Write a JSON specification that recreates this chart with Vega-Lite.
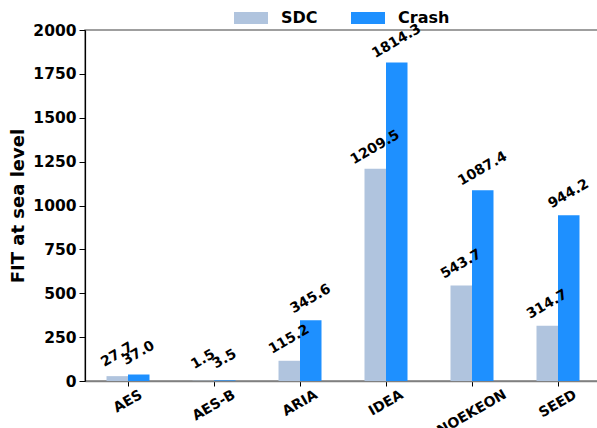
{
  "$schema": "https://vega.github.io/schema/vega-lite/v6.json",
  "width": 516,
  "height": 351,
  "autosize": {"type": "none"},
  "padding": {"left": 85, "top": 30, "right": 0, "bottom": 47},
  "config": {
    "font": "DejaVu Sans",
    "view": {"stroke": "#808080", "strokeWidth": 1.5}
  },
  "data": {
    "values": [
      {"cipher": "AES", "metric": "SDC", "fit": 27.7},
      {"cipher": "AES", "metric": "Crash", "fit": 37.0},
      {"cipher": "AES-B", "metric": "SDC", "fit": 1.5},
      {"cipher": "AES-B", "metric": "Crash", "fit": 3.5},
      {"cipher": "ARIA", "metric": "SDC", "fit": 115.2},
      {"cipher": "ARIA", "metric": "Crash", "fit": 345.6},
      {"cipher": "IDEA", "metric": "SDC", "fit": 1209.5},
      {"cipher": "IDEA", "metric": "Crash", "fit": 1814.3},
      {"cipher": "NOEKEON", "metric": "SDC", "fit": 543.7},
      {"cipher": "NOEKEON", "metric": "Crash", "fit": 1087.4},
      {"cipher": "SEED", "metric": "SDC", "fit": 314.7},
      {"cipher": "SEED", "metric": "Crash", "fit": 944.2}
    ]
  },
  "encoding": {
    "x": {
      "field": "cipher",
      "type": "nominal",
      "sort": ["AES", "AES-B", "ARIA", "IDEA", "NOEKEON", "SEED"],
      "scale": {"paddingInner": 0.5, "paddingOuter": 0.25},
      "axis": {
        "title": null,
        "labelAngle": -30,
        "labelAlign": "center",
        "labelBaseline": "middle",
        "labelFontSize": 14,
        "labelFontWeight": "bold",
        "labelColor": "black",
        "tickColor": "black",
        "tickSize": 5,
        "labelPadding": {
          "condition": [
            {"test": "datum.value === 'AES'", "value": 15.2},
            {"test": "datum.value === 'AES-B'", "value": 19.1},
            {"test": "datum.value === 'ARIA'", "value": 16.9},
            {"test": "datum.value === 'IDEA'", "value": 16.8},
            {"test": "datum.value === 'NOEKEON'", "value": 26.4}
          ],
          "value": 17.6
        },
        "domainColor": "#808080",
        "domainWidth": 1.5
      }
    },
    "xOffset": {"field": "metric", "type": "nominal", "sort": ["SDC", "Crash"]},
    "y": {
      "field": "fit",
      "type": "quantitative",
      "scale": {"domain": [0, 2000], "nice": false},
      "axis": {
        "title": "FIT at sea level",
        "format": "d",
        "titleFontSize": 18,
        "titleFontWeight": "bold",
        "titleColor": "black",
        "titlePadding": 5,
        "labelFontSize": 15.5,
        "labelFontWeight": "bold",
        "labelColor": "black",
        "tickColor": "black",
        "tickSize": 6,
        "labelPadding": 3,
        "domainColor": "black",
        "domainWidth": 1.2,
        "grid": false,
        "values": [0, 250, 500, 750, 1000, 1250, 1500, 1750, 2000]
      }
    }
  },
  "layer": [
    {
      "mark": {"type": "bar"},
      "encoding": {
        "color": {
          "field": "metric",
          "type": "nominal",
          "scale": {"domain": ["SDC", "Crash"], "range": ["#b0c4de", "#1e90ff"]},
          "legend": {
            "title": null,
            "orient": "none",
            "legendX": 149,
            "legendY": -29,
            "direction": "horizontal",
            "symbolType": "M-1,-0.35H1V0.35H-1Z",
            "symbolSize": 1156,
            "symbolStrokeWidth": 0,
            "symbolOpacity": 1,
            "labelFontSize": 16,
            "labelFontWeight": "bold",
            "labelColor": "black",
            "labelOffset": 13,
            "columnPadding": 33,
            "padding": 0
          }
        }
      }
    },
    {
      "mark": {
        "type": "text",
        "angle": 330,
        "align": "center",
        "baseline": "middle",
        "dx": 10.5,
        "dy": -18.5,
        "fontSize": 14,
        "fontWeight": "bold",
        "color": "black"
      },
      "encoding": {
        "text": {"field": "fit", "type": "quantitative", "format": ".1f"}
      }
    }
  ]
}
